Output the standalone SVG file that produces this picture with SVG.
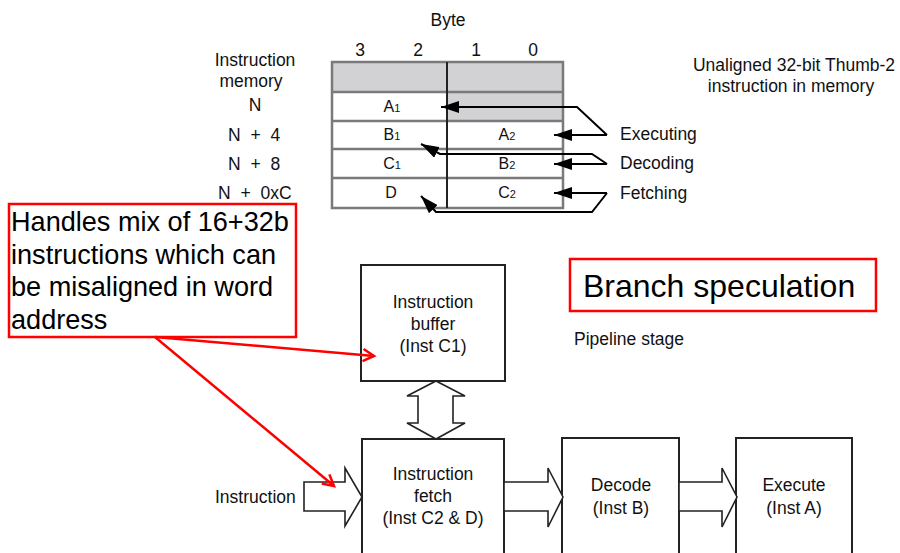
<svg xmlns="http://www.w3.org/2000/svg" width="900" height="553" viewBox="0 0 900 553">
<style>
  text { font-family: "Liberation Sans", Arial, sans-serif; fill: #111; }
  .s { font-size: 17.5px; }
  .c { text-anchor: middle; }
  .cell { font-size: 16px; text-anchor: middle; }
  .sub { font-size: 11px; }
  .big { font-size: 27.1px; fill: #000; }
  .huge { font-size: 32px; fill: #000; }
  .row { stroke: #7a7a7a; stroke-width: 2.5; fill: none; }
  .box { fill: #fff; stroke: #222; stroke-width: 2; }
  .blk { fill: #fff; stroke: #222; stroke-width: 1.6; stroke-linejoin: miter; }
  .ptr { fill: none; stroke: #000; stroke-width: 2; }
  .red { fill: none; stroke: #f00; stroke-width: 2.5; }
</style>
<defs>
  <marker id="ah" markerUnits="userSpaceOnUse" markerWidth="20" markerHeight="12" refX="18" refY="6" orient="auto">
    <path d="M0,0 L18,6 L0,12 z" fill="#000"/>
  </marker>
  <marker id="rh" markerUnits="userSpaceOnUse" markerWidth="16" markerHeight="16" refX="12" refY="7" orient="auto">
    <path d="M1,1 L12,7 L1,13" fill="none" stroke="#f00" stroke-width="2.5"/>
  </marker>
</defs>

<g id="memory-table">
  <text class="s c" x="448" y="26">Byte</text>
  <text class="s c" x="360" y="56">3</text>
  <text class="s c" x="418" y="56">2</text>
  <text class="s c" x="476" y="56">1</text>
  <text class="s c" x="533" y="56">0</text>
  <text class="s c" x="255" y="66">Instruction</text>
  <text class="s c" x="251" y="87">memory</text>
  <text class="s c" x="255" y="111">N</text>
  <text class="s" x="228" y="141">N<tspan dx="5"> +</tspan><tspan dx="5"> 4</tspan></text>
  <text class="s" x="228" y="170">N<tspan dx="5"> +</tspan><tspan dx="5"> 8</tspan></text>
  <text class="s" x="218" y="199">N<tspan dx="5"> +</tspan><tspan dx="5"> 0xC</tspan></text>
  <rect x="332" y="62" width="231" height="30" fill="#d2d2d4"/>
  <rect x="447" y="92" width="116" height="29" fill="#d2d2d4"/>
  <rect x="332" y="62" width="231" height="146" class="row"/>
  <line class="row" x1="332" y1="92" x2="563" y2="92"/>
  <line class="row" x1="332" y1="121" x2="563" y2="121"/>
  <line class="row" x1="332" y1="149" x2="563" y2="149"/>
  <line class="row" x1="332" y1="178" x2="563" y2="178"/>
  <line x1="447" y1="62" x2="447" y2="208" stroke="#222" stroke-width="2"/>
  <text class="cell" x="392" y="112">A<tspan class="sub">1</tspan></text>
  <text class="cell" x="392" y="140">B<tspan class="sub">1</tspan></text>
  <text class="cell" x="507" y="140">A<tspan class="sub">2</tspan></text>
  <text class="cell" x="392" y="169">C<tspan class="sub">1</tspan></text>
  <text class="cell" x="507" y="169">B<tspan class="sub">2</tspan></text>
  <text class="cell" x="391" y="198">D</text>
  <text class="cell" x="507" y="198">C<tspan class="sub">2</tspan></text>
  <text class="s c" x="794" y="71">Unaligned 32-bit Thumb-2</text>
  <text class="s c" x="791" y="92">instruction in memory</text>
  <text class="s" x="620" y="140">Executing</text>
  <text class="s" x="620" y="169">Decoding</text>
  <text class="s" x="620" y="199">Fetching</text>
</g>

<g id="note-callout">
  <rect x="9" y="204" width="287" height="133" class="red"/>
  <text class="big" x="11" y="231">Handles mix of 16+32b</text>
  <text class="big" x="11" y="263.5">instructions which can</text>
  <text class="big" x="11" y="296">be misaligned in word</text>
  <text class="big" x="11" y="328.5">address</text>
</g>

<g id="branch-speculation">
  <rect x="570" y="259" width="306" height="52" class="red"/>
  <text class="huge" x="583" y="297">Branch speculation</text>
  <text class="s" x="574" y="345">Pipeline stage</text>
</g>

<g id="instruction-buffer">
  <rect class="box" x="361" y="265" width="144" height="116"/>
  <text class="s c" x="433" y="308">Instruction</text>
  <text class="s c" x="433" y="330">buffer</text>
  <text class="s c" x="433" y="352">(Inst C1)</text>
</g>

<g id="instruction-fetch">
  <rect class="box" x="362" y="439" width="142" height="130"/>
  <text class="s c" x="433" y="480">Instruction</text>
  <text class="s c" x="433" y="502">fetch</text>
  <text class="s c" x="433" y="524">(Inst C2 &amp; D)</text>
</g>

<g id="decode">
  <rect class="box" x="562" y="438" width="117" height="130"/>
  <text class="s c" x="621" y="491">Decode</text>
  <text class="s c" x="621" y="514">(Inst B)</text>
</g>

<g id="execute">
  <rect class="box" x="736" y="438" width="116" height="130"/>
  <text class="s c" x="794" y="491">Execute</text>
  <text class="s c" x="794" y="514">(Inst A)</text>
</g>

<g id="instruction-input">
  <text class="s" x="215" y="503">Instruction</text>
</g>

<g id="connectors">
  <path class="ptr" d="M607,135 L554,135" marker-end="url(#ah)"/>
  <path class="ptr" d="M607,135 L577,107 L441,107" marker-end="url(#ah)"/>
  <path class="ptr" d="M607,164 L554,164" marker-end="url(#ah)"/>
  <path class="ptr" d="M607,164 L592,154 L440,154 L421,144" marker-end="url(#ah)"/>
  <path class="ptr" d="M607,193 L554,193" marker-end="url(#ah)"/>
  <path class="ptr" d="M607,193 L592,212 L436,212 L421,196" marker-end="url(#ah)"/>

  <polygon class="blk" points="436,381 465,396 453,396 453,423 465,423 436,439 407,423 418,423 418,396 407,396"/>
  <polygon class="blk" points="304,482 345,482 345,468 362,497 345,526 345,511 304,511"/>
  <polygon class="blk" points="504,482 548,482 548,468 563,497 548,527 548,511 504,511"/>
  <polygon class="blk" points="679,482 722,482 722,468 737,497 722,527 722,511 679,511"/>

  <path class="red" d="M155,337 L374,356" marker-end="url(#rh)"/>
  <path class="red" d="M155,337 L334,486" marker-end="url(#rh)"/>
</g>
</svg>
